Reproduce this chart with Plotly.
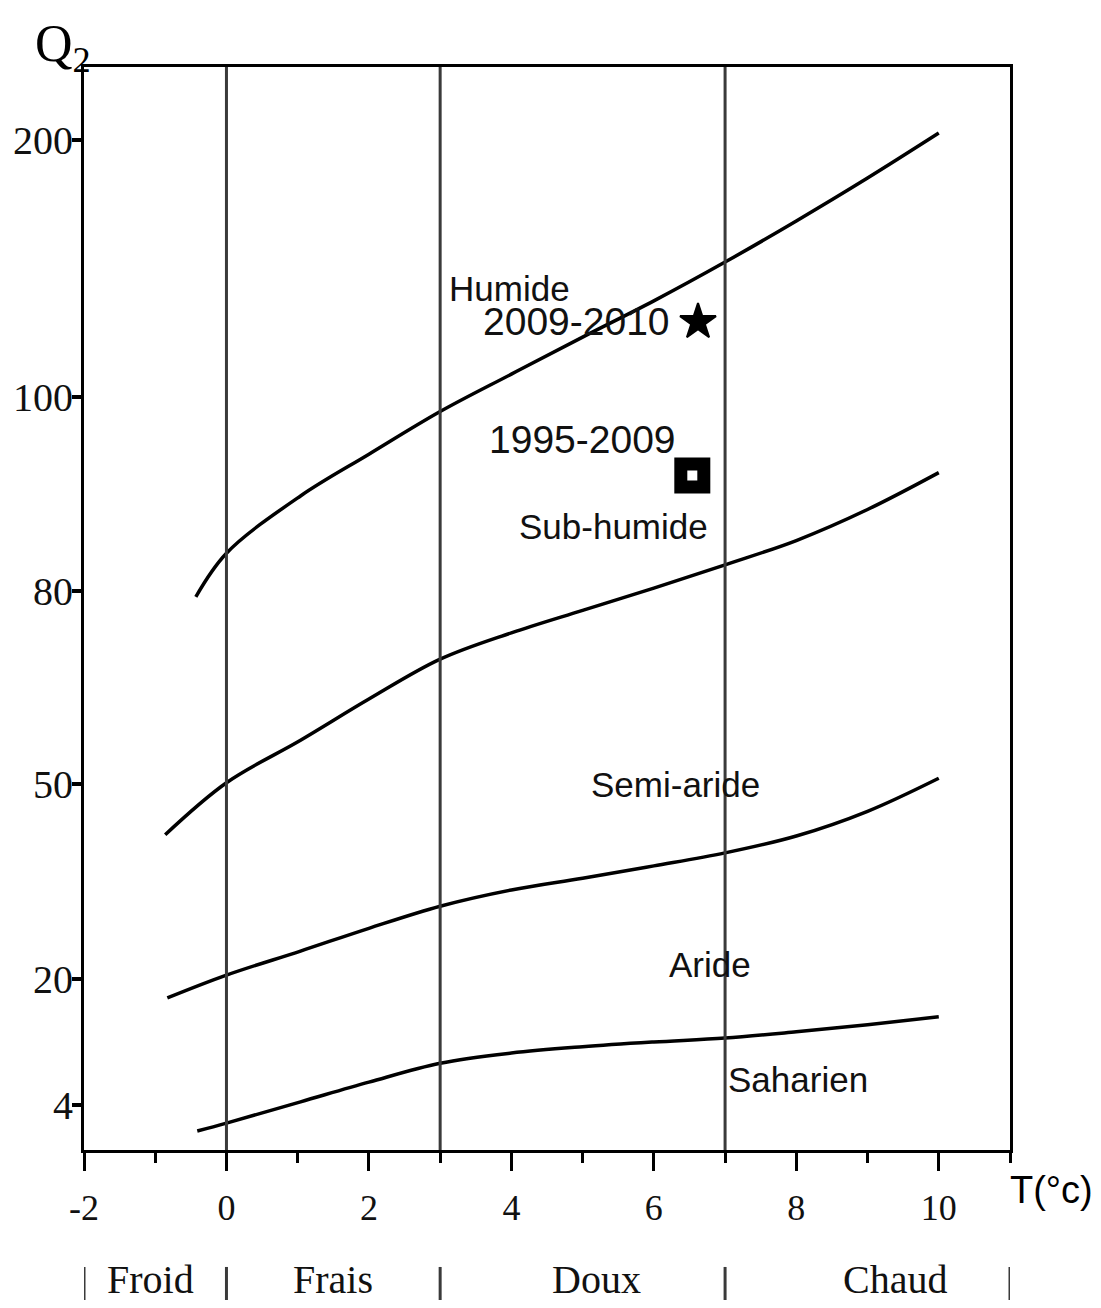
import numpy as np
import plotly.graph_objects as go

# ---------------- data ----------------
# Emberger climagram: Q2 (pluviothermic quotient) vs T = m (°C)
q2_tick_values = [4, 20, 50, 80, 100, 200]
q2_tick_labels = ["4", "20", "50", "80", "100", "200"]
# position of each Q2 tick on the printed (non-uniform) vertical scale
q2_scale_pos = [45, 171, 366, 559, 753, 1010]
q2_axis_range = [0, 1083]

t_tick_values = [-2, 0, 2, 4, 6, 8, 10]
t_minor_ticks = [-1, 1, 3, 5, 7, 9, 11]

zone_names = ["Froid", "Frais", "Doux", "Chaud"]
zone_bounds = [-2, 0, 3, 7, 11]
zone_label_t = [-1.07, 1.5, 5.19, 9.38]

curve_hum_sub_t = [-0.43, 0, 1.04, 2, 3, 4, 5, 6, 7, 8, 9, 10]
curve_hum_sub_q2 = [79.1, 83.9, 89.8, 94.1, 98.5, 108.9, 123.3, 137.4, 152.5, 168.5, 185.2, 202.7]

curve_sub_semi_t = [-0.86, 0, 1.04, 2, 3, 4, 5, 6, 7, 8, 9, 10]
curve_sub_semi_q2 = [42.2, 50.2, 56.8, 63.2, 69.4, 73.5, 77.0, 80.3, 82.7, 85.2, 88.4, 92.2]

curve_semi_ari_t = [-0.83, 0, 1.04, 2, 3, 4, 5, 6, 7, 8, 9, 10]
curve_semi_ari_q2 = [17.6, 20.6, 24.3, 27.8, 31.2, 33.7, 35.5, 37.4, 39.4, 42.0, 45.8, 50.9]

curve_ari_sah_t = [-0.41, 0, 1.04, 2, 3, 4, 5, 6, 7, 8, 9, 10]
curve_ari_sah_q2 = [0.7, 1.7, 4.4, 6.9, 9.3, 10.6, 11.4, 12.0, 12.5, 13.3, 14.2, 15.2]

station_names = ["2009-2010", "1995-2009"]
station_t = [6.62, 6.54]
station_q2 = [129.2, 91.9]

bioclimate_names = ["Humide", "Sub-humide", "Semi-aride", "Aride", "Saharien"]
bioclimate_label_t = [3.98, 5.43, 6.30, 6.79, 8.02]
bioclimate_label_q2 = [142.4, 86.6, 50.0, 22.2, 7.2]


# ---------------- scale ----------------
def q2_to_pos(q):
    q = np.asarray(q, dtype=float)
    xs = np.array(q2_tick_values, dtype=float)
    ys = np.array(q2_scale_pos, dtype=float)
    out = np.interp(q, xs, ys)
    lo_slope = (ys[1] - ys[0]) / (xs[1] - xs[0])
    hi_slope = (ys[-1] - ys[-2]) / (xs[-1] - xs[-2])
    out = np.where(q < xs[0], ys[0] + (q - xs[0]) * lo_slope, out)
    out = np.where(q > xs[-1], ys[-1] + (q - xs[-1]) * hi_slope, out)
    return out


SERIF = "Liberation Serif, Times New Roman, serif"
SANS = "Liberation Sans, Arial, sans-serif"
TXT = "#111111"

fig = go.Figure()

for t, q in [(curve_hum_sub_t, curve_hum_sub_q2),
             (curve_sub_semi_t, curve_sub_semi_q2),
             (curve_semi_ari_t, curve_semi_ari_q2),
             (curve_ari_sah_t, curve_ari_sah_q2)]:
    fig.add_trace(go.Scatter(
        x=t, y=q2_to_pos(q), mode="lines",
        line=dict(color="black", width=3.5, shape="spline", smoothing=1.0),
        showlegend=False, hoverinfo="skip"))

# stations
fig.add_trace(go.Scatter(
    x=[station_t[0]], y=q2_to_pos([station_q2[0]]), mode="markers",
    marker=dict(symbol="star", size=27, color="black", line=dict(color="black", width=2)),
    showlegend=False))
fig.add_trace(go.Scatter(
    x=[station_t[1]], y=q2_to_pos([station_q2[1]]), mode="markers",
    marker=dict(symbol="square-open", size=23, color="black", line=dict(color="black", width=13)),
    showlegend=False))

annotations = []
station_offsets = [(-26, 0), (-14, 36)]
for name, t, q, (dx, dy) in zip(station_names, station_t, station_q2, station_offsets):
    annotations.append(dict(
        x=t, y=float(q2_to_pos([q])[0]), xref="x", yref="y", text=name,
        showarrow=False, xanchor="right", yanchor="middle", xshift=dx, yshift=dy,
        font=dict(family=SANS, size=39, color=TXT)))

for name, t, q in zip(bioclimate_names, bioclimate_label_t, bioclimate_label_q2):
    annotations.append(dict(
        x=t, y=float(q2_to_pos([q])[0]), xref="x", yref="y", text=name,
        showarrow=False, xanchor="center", yanchor="middle",
        font=dict(family=SANS, size=35, color=TXT)))

# zone names below the axis
for name, tx in zip(zone_names, zone_label_t):
    annotations.append(dict(
        x=tx, y=-0.12, xref="x", yref="paper", text=name, showarrow=False,
        xanchor="center", yanchor="middle",
        font=dict(family=SERIF, size=40, color=TXT)))

annotations.append(dict(
    x=-0.055, y=1.05, xref="paper", yref="paper", text="Q<sub>2</sub>",
    showarrow=False, xanchor="left", yanchor="top",
    font=dict(family=SERIF, size=52, color="black")))
annotations.append(dict(
    x=1.0, y=-0.037, xref="paper", yref="paper", text="T(°c)",
    showarrow=False, xanchor="left", yanchor="middle", xshift=-2,
    font=dict(family=SANS, size=38, color="black")))

shapes = []
for b in zone_bounds[1:-1]:
    shapes.append(dict(type="line", xref="x", yref="paper", x0=b, x1=b, y0=0, y1=1,
                       line=dict(color="#3a3a3a", width=3)))
for b in zone_bounds:
    shapes.append(dict(type="line", xref="x", yref="paper", x0=b, x1=b, y0=-0.108, y1=-0.16,
                       line=dict(color="#3a3a3a", width=3)))

fig.update_layout(
    width=1093, height=1292,
    margin=dict(l=76, r=91, t=59, b=150),
    paper_bgcolor="white", plot_bgcolor="white",
    showlegend=False,
    annotations=annotations, shapes=shapes,
    xaxis=dict(
        range=[zone_bounds[0], zone_bounds[-1]],
        tickvals=t_tick_values, ticktext=[str(v) for v in t_tick_values],
        ticks="outside", ticklen=18, tickwidth=3, tickcolor="black",
        showline=True, linewidth=3, linecolor="black", mirror=True,
        showgrid=False, zeroline=False, automargin=False,
        tickfont=dict(family=SERIF, size=36, color=TXT),
        ticklabelstandoff=6,
        minor=dict(ticks="outside", tickvals=t_minor_ticks, ticklen=10,
                   tickwidth=3, tickcolor="black", showgrid=False),
    ),
    yaxis=dict(
        range=q2_axis_range,
        tickvals=list(q2_to_pos(q2_tick_values)), ticktext=q2_tick_labels,
        ticks="outside", ticklen=9, tickwidth=4, tickcolor="black",
        showline=True, linewidth=3, linecolor="black", mirror=True,
        showgrid=False, zeroline=False, automargin=False,
        tickfont=dict(family=SERIF, size=40, color=TXT),
        ticklabelstandoff=-9,
    ),
)

fig.write_html("out.html")
